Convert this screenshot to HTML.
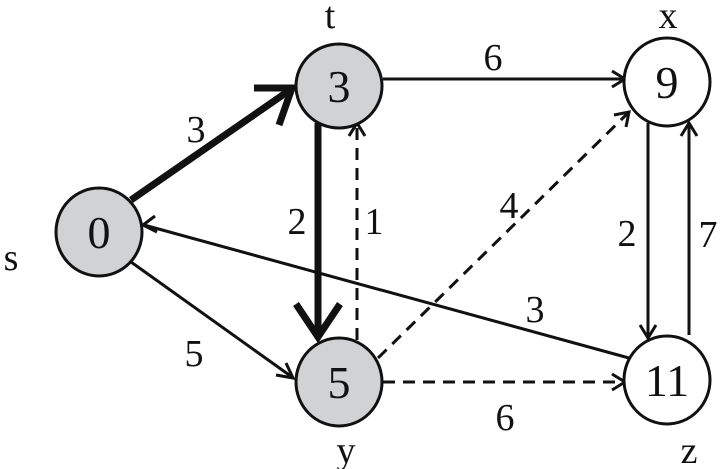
<!DOCTYPE html>
<html><head><style>body{margin:0;background:#fff}svg{display:block}svg text{font-family:'Liberation Serif','DejaVu Serif','Times New Roman',serif !important}</style></head>
<body>
<svg width="723" height="469" viewBox="0 0 723 469" xmlns="http://www.w3.org/2000/svg">
<g stroke="#111" fill="none" stroke-width="3">
<line x1="131" y1="200" x2="290" y2="90" stroke-width="7"/>
<polyline points="254,88 292,88 279,125" stroke-width="7"/>
<line x1="318" y1="123" x2="318" y2="334" stroke-width="7"/>
<polyline points="296,304 318,337 340,304" stroke-width="7"/>
<line x1="357" y1="340" x2="357" y2="125" stroke-dasharray="12,8"/>
<polyline points="349,136 357,123 365,136"/>
<line x1="383" y1="79" x2="624" y2="79"/>
<polyline points="612,71 625,79 612,87"/>
<line x1="378" y1="358" x2="628" y2="113" stroke-dasharray="12,8"/>
<polyline points="614,115 629,112 626,127"/>
<line x1="131" y1="262" x2="292" y2="377"/>
<polyline points="276,375 293,378 286,363"/>
<line x1="629" y1="358" x2="144" y2="225"/>
<polyline points="155,216 143,225 157,232"/>
<line x1="648" y1="123" x2="648" y2="337"/>
<polyline points="640,325 648,338 656,325"/>
<line x1="689" y1="335" x2="689" y2="124"/>
<polyline points="681,136 689,123 697,136"/>
<line x1="383" y1="382" x2="624" y2="382" stroke-dasharray="12,8"/>
<polyline points="612,374 625,382 612,390"/>
</g>
<g stroke="#111" stroke-width="3">
<ellipse cx="99" cy="232" rx="43" ry="44" fill="#d1d2d4"/>
<ellipse cx="339" cy="86" rx="43" ry="42" fill="#d1d2d4"/>
<ellipse cx="339" cy="382" rx="43" ry="44" fill="#d1d2d4"/>
<ellipse cx="667" cy="82" rx="43" ry="44" fill="#fff"/>
<ellipse cx="667" cy="380" rx="43" ry="44" fill="#fff"/>
</g>
<g fill="#111" text-anchor="middle" style="font-size:46px">
<text x="99" y="248">0</text>
<text x="339" y="102">3</text>
<text x="339" y="398">5</text>
<text x="667" y="98">9</text>
<text x="667" y="396">11</text>
</g>
<g fill="#111" text-anchor="middle" style="font-size:38px">
<text x="196" y="142">3</text>
<text x="297" y="234">2</text>
<text x="374" y="234">1</text>
<text x="509" y="218">4</text>
<text x="493" y="70">6</text>
<text x="627" y="246">2</text>
<text x="708" y="247">7</text>
<text x="535" y="322">3</text>
<text x="194" y="366">5</text>
<text x="505" y="430">6</text>
<text x="330" y="28">t</text>
<text x="668" y="28">x</text>
<text x="11" y="270">s</text>
<text x="346" y="463">y</text>
<text x="689" y="463">z</text>
</g>
</svg>
</body></html>
